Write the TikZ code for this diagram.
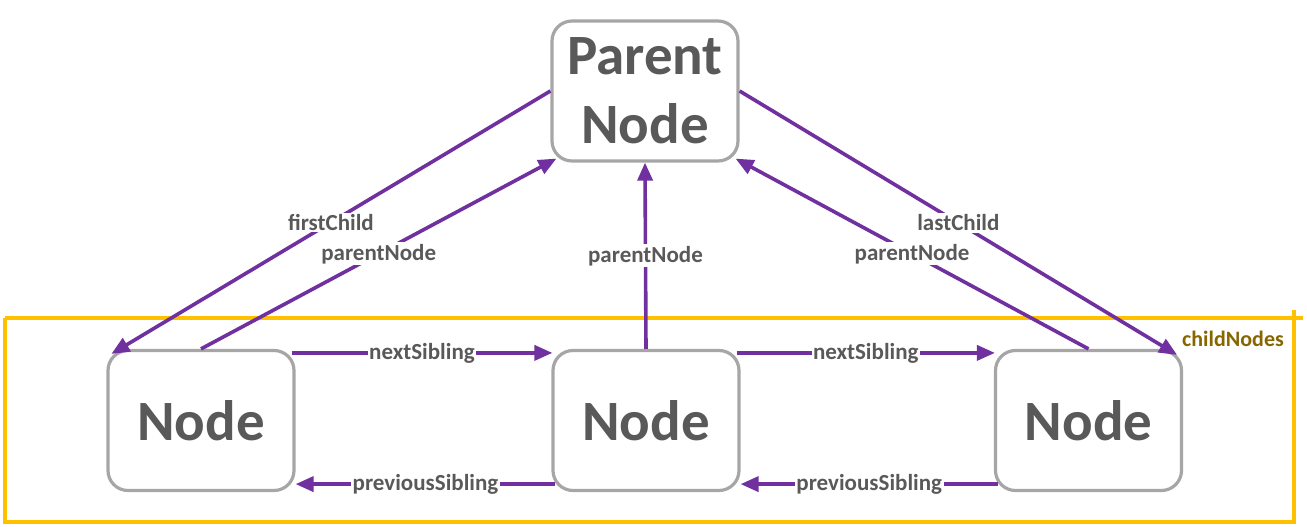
\documentclass[tikz,border=0pt]{standalone}
\usepackage{fontspec}
\setmainfont{Carlito}
\usetikzlibrary{arrows.meta,calc}
\definecolor{boxgray}{HTML}{A6A6A6}
\definecolor{txtgray}{HTML}{595959}
\definecolor{linkpurple}{HTML}{7030A0}
\definecolor{frameorange}{HTML}{FFC000}
\definecolor{labelgold}{HTML}{876600}
\tikzset{
  dnode/.style={draw=boxgray, line width=3.2pt, rounded corners=20pt, fill=white,
    minimum width=186pt, minimum height=140pt, inner sep=0pt, align=center,
    text=txtgray, font=\fontsize{57}{69}\selectfont\bfseries},
  link/.style={draw=linkpurple, line width=3.6pt, -{Triangle[length=18pt,width=15pt]}},
  lbl/.style={fill=white, inner sep=1.5pt, text=txtgray, font=\fontsize{23}{26}\selectfont\bfseries},
}
\begin{document}
\begin{tikzpicture}[x=1pt,y=-1pt]
\useasboundingbox (0,0) rectangle (1307,527);
% frame
\draw[frameorange, line width=4.5pt] (5,318) -- (1303,318);
\draw[frameorange, line width=4.5pt] (1294,310) -- (1294,522) -- (5,522) -- (5,318);
\node[text=labelgold, font=\fontsize{22}{24}\selectfont\bfseries] (cn) at (1233,339) {childNodes};
% nodes
\node[dnode] (P) at (645,91) {Parent\\Node};
\node[dnode] (L) at (201,420.5) {Node};
\node[dnode] (M) at (646,420.5) {Node};
\node[dnode] (R) at (1088.5,420.5) {Node};
% parent/child links
\draw[link] (P.west) -- node[lbl]{firstChild} ($(L.north west)+(5,5)$);
\draw[link] (L.north) -- node[lbl]{parentNode} ($(P.south west)+(6,-4)$);
\draw[link] (M.north) -- node[lbl]{parentNode} (P.south);
\draw[link] (R.north) -- node[lbl]{parentNode} ($(P.south east)+(-4,-4)$);
\draw[link] (P.east) -- node[lbl]{lastChild} ($(R.north east)+(-6,6)$);
% sibling links
\draw[link] ($(L.north east)+(-4,4)$) -- node[lbl]{nextSibling} ($(M.north west)+(1,4)$);
\draw[link] ($(M.south west)+(4,-8)$) -- node[lbl]{previousSibling} ($(L.south east)+(0,-8)$);
\draw[link] ($(M.north east)+(-4,4)$) -- node[lbl]{nextSibling} ($(R.north west)+(1,4)$);
\draw[link] ($(R.south west)+(4,-8)$) -- node[lbl]{previousSibling} ($(M.south east)+(0,-8)$);
\end{tikzpicture}
\end{document}
